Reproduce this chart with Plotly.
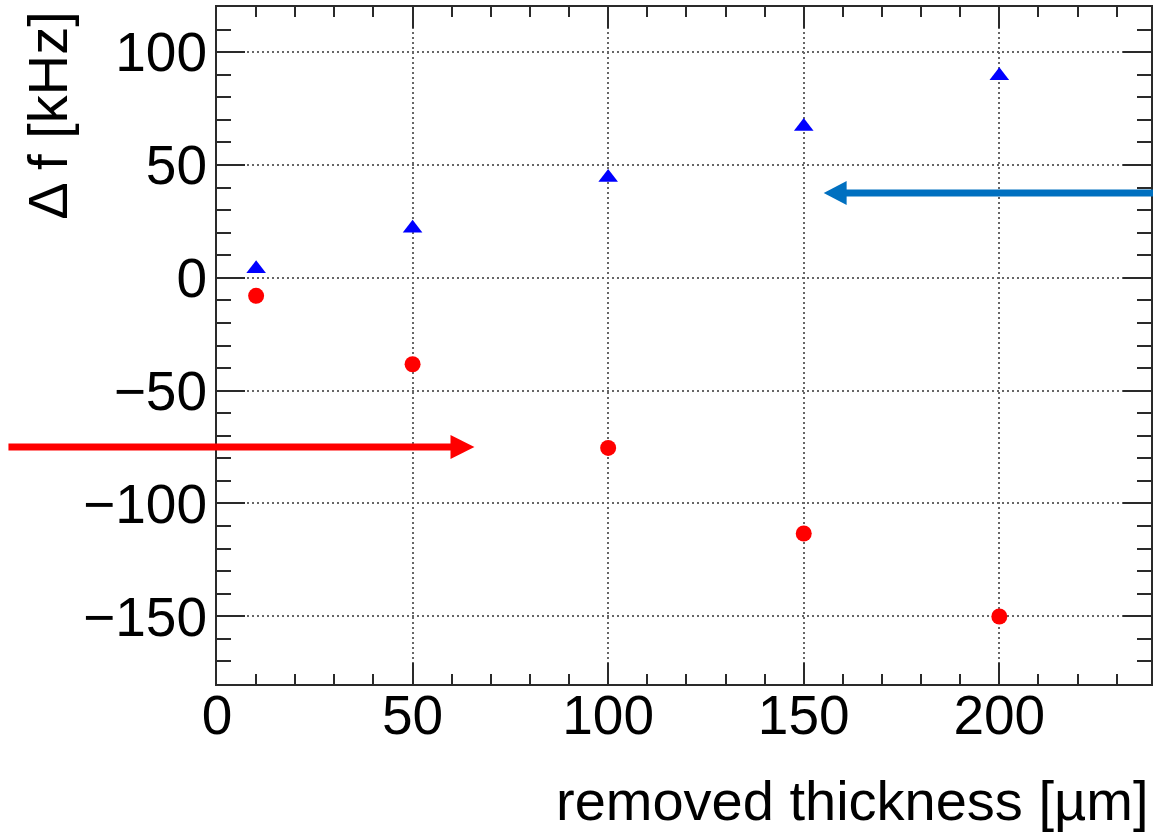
import plotly.graph_objects as go

# Removed thickness [um] and the resulting frequency shifts [kHz]
thickness = [10, 50, 100, 150, 200]
shift_up = [4, 22, 44.5, 67, 89.5]        # blue triangles
shift_down = [-8, -38.3, -75.4, -113.3, -150.1]  # red circles

x_ticks = [0, 50, 100, 150, 200]
y_ticks = [-150, -100, -50, 0, 50, 100]

W, H = 1153, 832
L, R, T, B = 217, 0, 7, 148
PW, PH = W - L - R, H - T - B

FONT = "Liberation Sans, Arial, Helvetica, sans-serif"
AXIS_COL = "#2a2a2a"
GRID_COL = "#666666"


def px(xp):
    return (xp - L) / PW


def py(yp):
    return (H - B - yp) / PH


fig = go.Figure()

fig.add_trace(go.Scatter(
    x=thickness, y=shift_up, mode="markers",
    marker=dict(symbol="triangle-up", size=17, color="#0000ff", line=dict(width=0)),
    showlegend=False,
))
fig.add_trace(go.Scatter(
    x=thickness, y=shift_down, mode="markers",
    marker=dict(symbol="circle", size=16, color="#ff0000", line=dict(width=0)),
    showlegend=False,
))

axis_common = dict(
    showline=True, linecolor=AXIS_COL, linewidth=2,
    mirror="ticks", ticks="inside", tickcolor=AXIS_COL, tickwidth=2,
    showgrid=True, gridcolor=GRID_COL, gridwidth=2, griddash="2px,3px",
    zeroline=False,
    tickfont=dict(family=FONT, size=55, color="black"),
)

fig.update_xaxes(
    **axis_common,
    range=[0, PW / 3.92], tickvals=x_ticks, ticklen=21,
    minor=dict(dtick=10, tick0=0, ticklen=10, ticks="inside",
               tickcolor=AXIS_COL, tickwidth=2, showgrid=False),
    ticklabelstandoff=-18,
)
fig.update_yaxes(
    **axis_common,
    range=[-180, 120], tickvals=y_ticks, ticklen=28,
    minor=dict(dtick=10, tick0=0, ticklen=14, ticks="inside",
               tickcolor=AXIS_COL, tickwidth=2, showgrid=False),
    ticklabelstandoff=-3,
)

# Red arrow pointing right
red = "#ff0000"
fig.add_shape(type="line", xref="paper", yref="paper",
              x0=px(8), x1=px(453), y0=py(447), y1=py(447),
              line=dict(color=red, width=7))
fig.add_shape(type="path", xref="paper", yref="paper",
              path=f"M {px(451)} {py(435)} L {px(475)} {py(447)} L {px(451)} {py(459)} Z",
              fillcolor=red, line=dict(width=0))

# Blue arrow pointing left
blue = "#0070c0"
fig.add_shape(type="line", xref="paper", yref="paper",
              x0=px(846), x1=px(1160), y0=py(193), y1=py(193),
              line=dict(color=blue, width=7))
fig.add_shape(type="path", xref="paper", yref="paper",
              path=f"M {px(848)} {py(181)} L {px(825)} {py(193)} L {px(848)} {py(205)} Z",
              fillcolor=blue, line=dict(width=0))

# Axis titles
fig.add_annotation(text="removed thickness [µm]", xref="paper", yref="paper",
                   x=px(1152), y=py(800), xanchor="right", yanchor="middle",
                   showarrow=False, font=dict(family=FONT, size=56, color="black"))
fig.add_annotation(text="Δ f [kHz]", xref="paper", yref="paper",
                   x=px(47), y=py(9), xanchor="center", yanchor="top",
                   textangle=-90, showarrow=False,
                   font=dict(family=FONT, size=56, color="black"))

fig.update_layout(
    width=W, height=H,
    margin=dict(l=L, r=R, t=T, b=B),
    paper_bgcolor="white", plot_bgcolor="white",
    showlegend=False,
)

fig.write_html("out.html")
